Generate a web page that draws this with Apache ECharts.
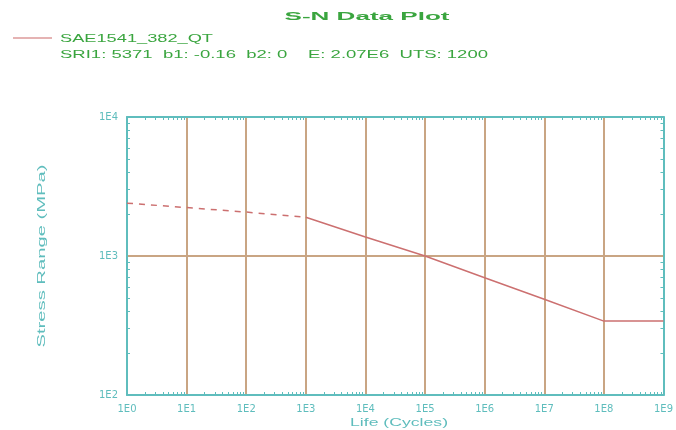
<!DOCTYPE html>
<html><head><meta charset="utf-8">
<script src="https://cdn.jsdelivr.net/npm/echarts@6/dist/echarts.min.js"></script>
<style>html,body{margin:0;padding:0;background:#fff}#c{width:676px;height:430px}</style>
</head><body><div id="c"></div>
<script>
// Data
var titleText = 'S-N Data Plot';
var seriesName = 'SAE1541_382_QT';
var infoText = 'SRI1: 5371  b1: -0.16  b2: 0    E: 2.07E6  UTS: 1200';
var xName = 'Life (Cycles)';
var yName = 'Stress Range (MPa)';
var dashedLife = [1, 10, 100, 1000];
var dashedStress = [2400, 2230, 2070, 1900];
var solidLife = [1000, 1e4, 1e5, 1e6, 1e7, 1e8, 1e9];
var solidStress = [1900, 1370, 1000, 698, 488, 340, 340];
var xMin = 1, xMax = 1e9, yMin = 100, yMax = 1e4;

var teal = '#5fbdbd', brown = '#c9a583', red = '#cc7070', legendRed = '#dc9a9a', green = '#3aa53f';
var fam = '"Liberation Sans", Arial, sans-serif';

function pairs(xs, ys){ return xs.map(function(x,i){return [x, ys[i]];}); }
function minorVals(lo, hi){ var v=[]; for(var d=lo; d<hi; d*=10){ for(var m=2;m<10;m++) v.push(m*d);} return v; }
var xMinor = minorVals(xMin, xMax), yMinor = minorVals(yMin, yMax);
function fmt(v){ return '1E' + Math.round(Math.log10(v)); }

var ctx = document.createElement('canvas').getContext('2d');
function stretched(text, font, x, y, targetW, align, rot){
  ctx.font = font;
  var w = ctx.measureText(text).width;
  return {type:'text', x:x, y:y, rotation:rot||0, scaleX:targetW/w, scaleY:1, silent:true,
    style:{text:text, font:font, fill:align.fill, textAlign:align.a, textVerticalAlign:'middle'}};
}

var chart = echarts.init(document.getElementById('c'), null, {renderer:'canvas'});
chart.setOption({
  animation:false,
  backgroundColor:'#fff',
  graphic:[
    stretched(titleText, 'bold 11px ' + fam, 367, 17, 165, {a:'center', fill:green}),
    {type:'line', shape:{x1:13, y1:38, x2:52, y2:38}, style:{stroke:legendRed, lineWidth:1.5}, silent:true},
    stretched(seriesName, '11.5px ' + fam, 60, 39, 153, {a:'left', fill:green}),
    stretched(infoText, '11.5px ' + fam, 60, 55, 428, {a:'left', fill:green}),
    stretched(xName, '11px ' + fam, 399, 423, 98, {a:'center', fill:teal}),
    stretched(yName, '11px ' + fam, 42, 256, 183, {a:'center', fill:teal}, Math.PI/2)
  ],
  grid:{left:127, right:8, top:117, bottom:35, containLabel:false},
  xAxis:[{
    type:'log', logBase:10, min:xMin, max:xMax, position:'bottom',
    axisLine:{show:true, lineStyle:{color:teal, width:2}},
    axisTick:{show:false},
    axisLabel:{color:teal, fontSize:10, fontFamily:'DejaVu Sans', margin:9, formatter:fmt},
    splitLine:{show:true, showMinLine:false, showMaxLine:false, lineStyle:{color:brown, width:2}}
  },{
    type:'log', logBase:10, min:xMin, max:xMax, position:'top',
    axisLine:{show:true, lineStyle:{color:teal, width:2}},
    axisTick:{show:true, inside:true, length:3, customValues:xMinor, lineStyle:{color:teal}},
    axisLabel:{show:false}, splitLine:{show:false}
  },{
    type:'log', logBase:10, min:xMin, max:xMax, position:'bottom',
    axisLine:{show:false},
    axisTick:{show:true, inside:true, length:3, customValues:xMinor, lineStyle:{color:teal}},
    axisLabel:{show:false}, splitLine:{show:false}
  }],
  yAxis:[{
    type:'log', logBase:10, min:yMin, max:yMax, position:'left',
    axisLine:{show:true, lineStyle:{color:teal, width:2}},
    axisTick:{show:false},
    axisLabel:{color:teal, fontSize:10, fontFamily:'DejaVu Sans', margin:9, formatter:fmt},
    splitLine:{show:true, showMinLine:false, showMaxLine:false, lineStyle:{color:brown, width:2}}
  },{
    type:'log', logBase:10, min:yMin, max:yMax, position:'right',
    axisLine:{show:true, lineStyle:{color:teal, width:2}},
    axisTick:{show:true, inside:true, length:3, customValues:yMinor, lineStyle:{color:teal}},
    axisLabel:{show:false}, splitLine:{show:false}
  },{
    type:'log', logBase:10, min:yMin, max:yMax, position:'left',
    axisLine:{show:false},
    axisTick:{show:true, inside:true, length:3, customValues:yMinor, lineStyle:{color:teal}},
    axisLabel:{show:false}, splitLine:{show:false}
  }],
  series:[{
    name:'extrapolated', type:'line', xAxisIndex:0, yAxisIndex:0, data:pairs(dashedLife, dashedStress), showSymbol:false, z:5,
    lineStyle:{color:red, width:1.5, type:[6,6]}, itemStyle:{color:red}
  },{
    name:seriesName, type:'line', xAxisIndex:0, yAxisIndex:0, data:pairs(solidLife, solidStress), showSymbol:false, z:5,
    lineStyle:{color:red, width:1.5}, itemStyle:{color:red}
  }]
});
</script></body></html>
